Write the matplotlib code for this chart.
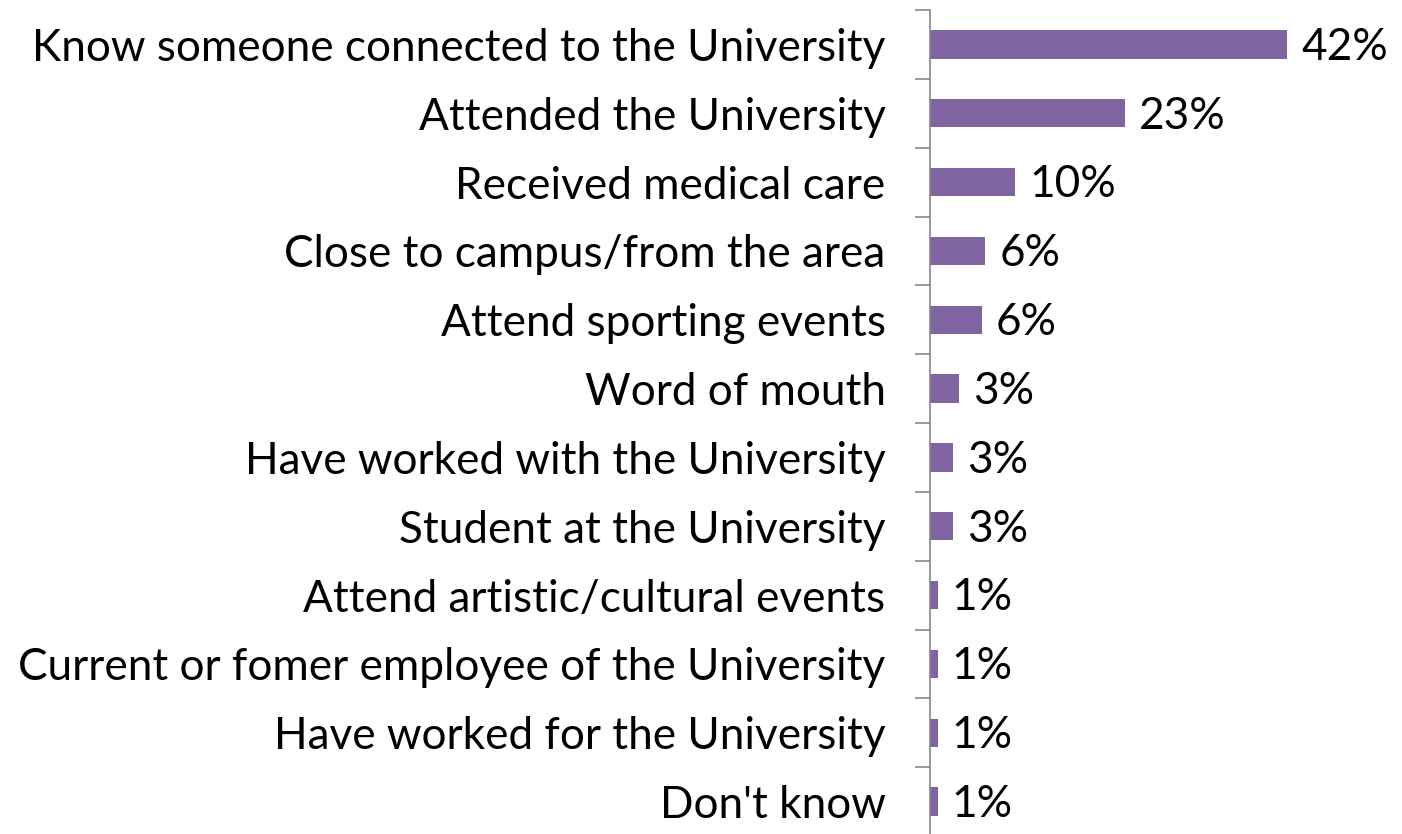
import matplotlib
matplotlib.use("Agg")
import matplotlib.pyplot as plt
from matplotlib.ticker import FixedLocator
import numpy as np

# survey answers, top to bottom
categories = [
    "Know someone connected to the University",
    "Attended the University",
    "Received medical care",
    "Close to campus/from the area",
    "Attend sporting events",
    "Word of mouth",
    "Have worked with the University",
    "Student at the University",
    "Attend artistic/cultural events",
    "Current or fomer employee of the University",
    "Have worked for the University",
    "Don't know",
]
values = [42.0, 22.9, 10.0, 6.5, 6.1, 3.4, 2.7, 2.7, 0.9, 0.9, 0.9, 0.9]
labels = ["42%", "23%", "10%", "6%", "6%", "3%", "3%", "3%", "1%", "1%", "1%", "1%"]

plt.rcParams['font.family'] = ['Lato', 'DejaVu Sans']
fs = 31.8

fig = plt.figure(figsize=(14.02, 8.34), dpi=100)
ax = fig.add_axes([930/1402, -2/834, 472/1402, 826/834])

y = np.arange(len(categories))
ax.barh(y, values, height=0.41, color="#8064A2")
for yi, v, lab in zip(y, values, labels):
    ax.annotate(lab, (v, yi), xytext=(10, -2), textcoords="offset points",
                va="center", ha="left", fontsize=fs)

ax.set_ylim(len(categories) - 0.5, -0.5)
ax.set_xlim(0, 55.5)
ax.set_yticks(y)
ax.set_yticklabels(categories, fontsize=fs)
ax.yaxis.set_minor_locator(FixedLocator(np.arange(-0.5, len(categories), 1)))
ax.tick_params(axis="y", which="major", length=0, pad=32)
ax.tick_params(axis="y", which="minor", length=11, width=1.2, color="#868686")
ax.set_xticks([])
for s in ["top", "right", "bottom"]:
    ax.spines[s].set_visible(False)
ax.spines["left"].set_color("#868686")
ax.spines["left"].set_linewidth(1.2)

fig.savefig("out.png", dpi=100)
